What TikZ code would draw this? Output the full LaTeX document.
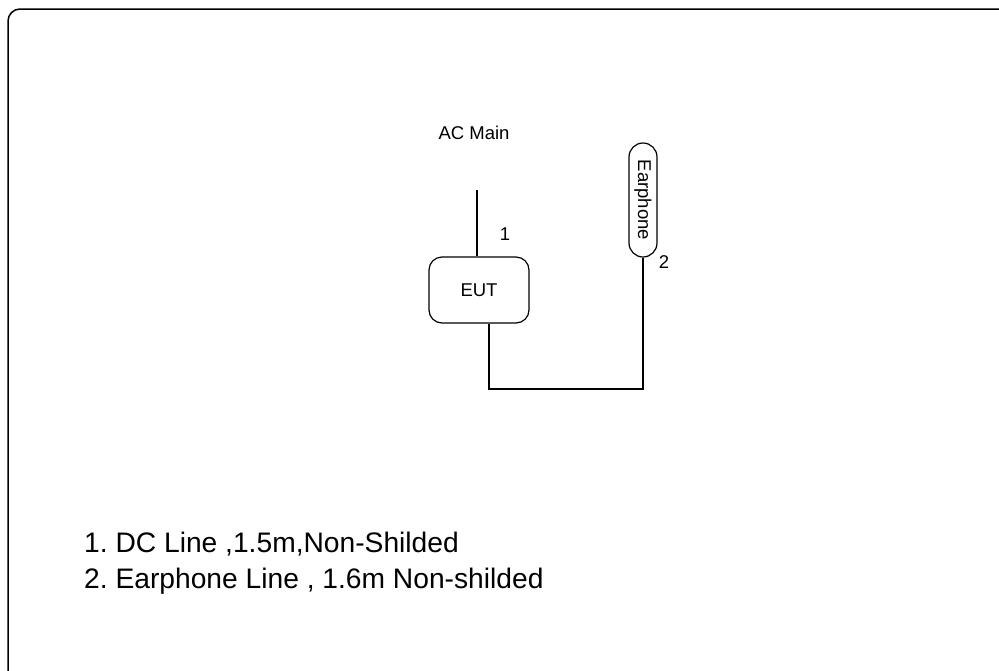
\documentclass[tikz,border=0pt]{standalone}
\usepackage{fontspec}
\setmainfont{Liberation Sans}
\usetikzlibrary{shapes.misc}
\begin{document}
\frenchspacing
\begin{tikzpicture}[x=1pt,y=-1pt,
  line/.style={line width=1.2pt},
  lbl/.style={font=\fontsize{18.5}{21}\selectfont, inner sep=0pt},
  note/.style={font=\fontsize{28.2}{32}\selectfont, inner sep=0pt, anchor=base west}]
\useasboundingbox (0,0) rectangle (999,670);
\begin{scope}
\clip (0,0) rectangle (999,670);
\draw[line width=1.5pt, rounded corners=12pt] (8,690) -- (8,9) -- (1020,9);
\end{scope}
\node[lbl] (ac) at (474,133) {AC Main};
\coordinate (acend) at (477,190);
\node[draw, line, rounded corners=13pt, minimum width=100pt, minimum height=66pt, lbl] (eut) at (479,290) {EUT};
\node[lbl] (n1) at (505,234) {1};
\node[draw, line, rounded rectangle, rounded rectangle arc length=180, rotate=-90, minimum width=114pt, minimum height=28pt, inner sep=0pt, lbl] (ear) at (643,200) {Earphone};
\node[lbl] (n2) at (664,262) {2};
\draw[line] (acend) -- (acend |- eut.north);
\coordinate (c1) at (489,389);
\draw[line] (ear.east) -- (ear.east |- c1) -- (c1) -- (c1 |- eut.south);
\node[note] (t1) at (84,552) {1. DC Line ,1.5m,Non-Shilded};
\node[note] (t2) at (84,588) {2. Earphone Line , 1.6m Non-shilded};
\end{tikzpicture}
\end{document}
